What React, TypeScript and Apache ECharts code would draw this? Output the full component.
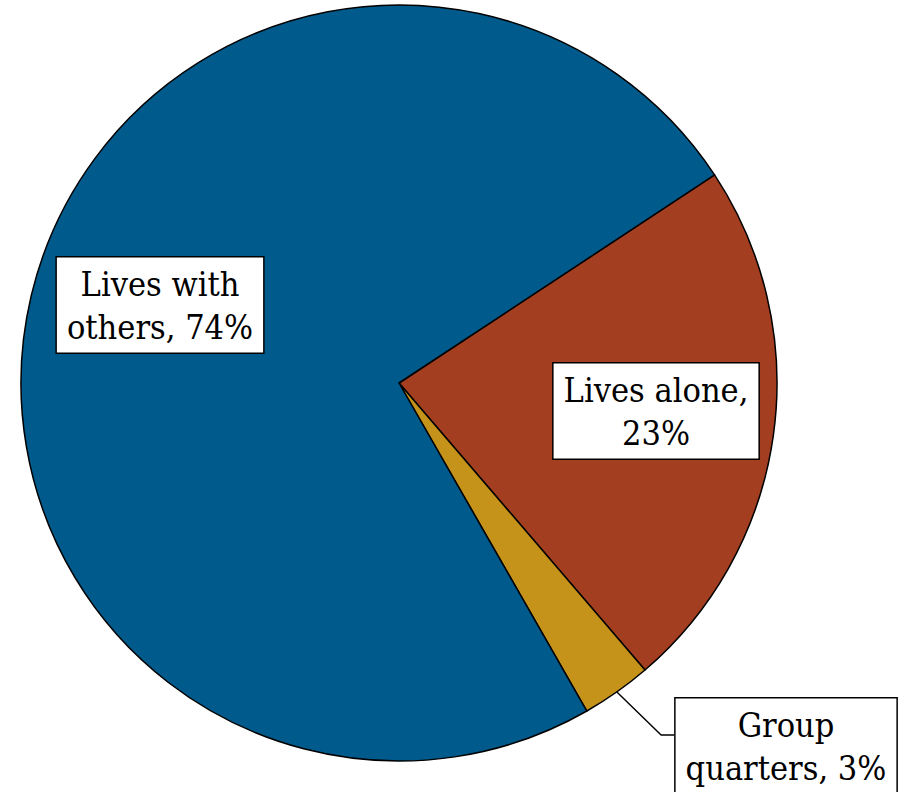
import React, { useEffect, useRef } from "react";
import * as echarts from "echarts";

const categories = ["Lives alone", "Group quarters", "Lives with others"];
const values = [23, 3, 74];
const firstLineWords = [2, 1, 2];
const colors = ["#A33E20", "#C5931A", "#005A8C"];

// label box centres (px)
const labelCenters: number[][] = [
  [656, 411],
  [786, 746],
  [160, 305],
];

function wrapLabel(name: string, value: number, idx: number): string {
  const words = `${name}, ${value}%`.split(" ");
  const n = firstLineWords[idx];
  return words.slice(0, n).join(" ") + "\n" + words.slice(n).join(" ");
}

export default function App() {
  const ref = useRef<HTMLDivElement>(null);
  useEffect(() => {
    if (!ref.current) return;
    const chart = echarts.init(ref.current, undefined, { renderer: "svg" });
    const fontFamily = "'DejaVu Serif Condensed', 'DejaVu Serif', serif";
    chart.setOption({
      animation: false,
      backgroundColor: "#ffffff",
      series: [
        {
          type: "pie",
          center: [399, 383],
          radius: 378,
          startAngle: 33.4,
          clockwise: true,
          avoidLabelOverlap: false,
          itemStyle: { borderColor: "#000000", borderWidth: 1.5 },
          label: {
            show: true,
            position: "outside",
            alignTo: "none",
            formatter: (p: any) => wrapLabel(p.name, p.value, p.dataIndex),
            fontFamily,
            fontSize: 34,
            lineHeight: 43,
            color: "#000000",
            backgroundColor: "#ffffff",
            borderColor: "#000000",
            borderWidth: 1.5,
            padding: [5, 10, 4, 10],
            align: "center",
          },
          labelLine: { show: false },
          emphasis: { disabled: true },
          data: categories.map((name, i) => ({
            name,
            value: values[i],
            itemStyle: { color: colors[i] },
            labelLine:
              i === 1
                ? { show: true, lineStyle: { color: "#000000", width: 1.4 } }
                : { show: false },
          })),
          labelLayout: (params: any) => {
            const i = params.dataIndex;
            const c = labelCenters[i];
            const out: any = {
              x: c[0],
              y: c[1],
              align: "center",
              verticalAlign: "middle",
            };
            if (i === 1) {
              const w = params.labelRect.width;
              const left = c[0] - w / 2;
              const anchor =
                params.labelLinePoints && params.labelLinePoints[0]
                  ? params.labelLinePoints[0]
                  : [618, 692];
              out.labelLinePoints = [anchor, [left - 13, 735], [left, 735]];
            }
            return out;
          },
        },
      ],
    });
    return () => chart.dispose();
  }, []);
  return (
    <div
      ref={ref}
      style={{ position: "fixed", left: 0, top: 0, width: 909, height: 792 }}
    />
  );
}
